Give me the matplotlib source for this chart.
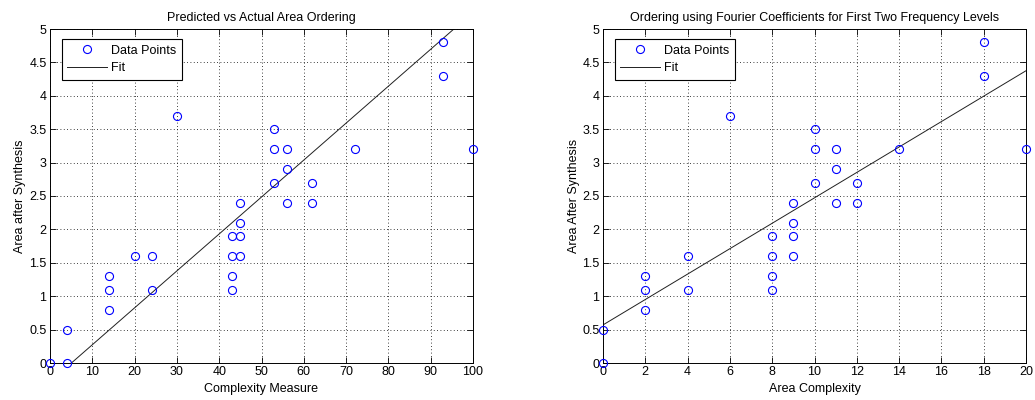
import matplotlib.pyplot as plt
import numpy as np

plt.rcParams["font.family"] = ["Liberation Sans", "DejaVu Sans"]
plt.rcParams["font.size"] = 9

# left panel: complexity measure vs area
left_x = [0, 4, 4, 14, 14, 14, 20, 24, 24, 30, 43, 43, 43, 43, 45, 45, 45, 45,
          53, 53, 53, 56, 56, 56, 62, 62, 72, 93, 93, 100]
left_y = [0, 0, 0.5, 0.8, 1.1, 1.3, 1.6, 1.6, 1.1, 3.7, 1.1, 1.3, 1.6, 1.9, 1.6, 1.9, 2.1, 2.4,
          2.7, 3.2, 3.5, 2.4, 2.9, 3.2, 2.4, 2.7, 3.2, 4.3, 4.8, 3.2]
left_fit_x = [0, 100]
left_fit_y = [-0.28, 5.25]

# right panel: fourier coefficient ordering
right_x = [0, 0, 2, 2, 2, 4, 4, 6, 8, 8, 8, 8, 9, 9, 9, 9, 10, 10, 10, 11, 11, 11,
           12, 12, 14, 18, 18, 20]
right_y = [0, 0.5, 0.8, 1.1, 1.3, 1.1, 1.6, 3.7, 1.1, 1.3, 1.6, 1.9, 1.6, 1.9, 2.1, 2.4,
           2.7, 3.2, 3.5, 2.4, 2.9, 3.2, 2.4, 2.7, 3.2, 4.3, 4.8, 3.2]
right_fit_x = [0, 20]
right_fit_y = [0.57, 4.375]

panels = [
    dict(x=left_x, y=left_y, fx=left_fit_x, fy=left_fit_y,
         xlim=(0, 100), xticks=np.arange(0, 101, 10),
         title="Predicted vs Actual Area Ordering",
         xlabel="Complexity Measure", ylabel="Area after Synthesis",
         rect=[50 / 1035, 37 / 400, 423 / 1035, 334 / 400]),
    dict(x=right_x, y=right_y, fx=right_fit_x, fy=right_fit_y,
         xlim=(0, 20), xticks=np.arange(0, 21, 2),
         title="Ordering using Fourier Coefficients for First Two Frequency Levels",
         xlabel="Area Complexity", ylabel="Area After Synthesis",
         rect=[603 / 1035, 37 / 400, 423 / 1035, 334 / 400]),
]

fig = plt.figure(figsize=(10.35, 4.0), dpi=100)

for p in panels:
    ax = fig.add_axes(p["rect"])
    ax.plot(p["x"], p["y"], "o", mfc="none", mec="blue", ms=5.8, mew=0.8,
            label="Data Points", clip_on=False, zorder=3)
    ax.plot(p["fx"], p["fy"], "-", color="#202020", lw=0.7, label="Fit")
    ax.set_xlim(*p["xlim"])
    ax.set_ylim(0, 5)
    ax.set_xticks(p["xticks"])
    ax.set_yticks(np.arange(0, 5.01, 0.5))
    ax.set_yticklabels([f"{v:g}" for v in np.arange(0, 5.01, 0.5)])
    ax.tick_params(direction="in", top=True, right=True, length=4, width=0.6,
                   pad=2.5, labelsize=9, colors="black")
    ax.grid(True, color="black", ls=(0, (1, 3)), lw=0.6)
    for s in ax.spines.values():
        s.set_linewidth(0.7)
    ax.set_title(p["title"], fontsize=9, pad=6)
    ax.set_xlabel(p["xlabel"], fontsize=9, labelpad=3)
    ax.set_ylabel(p["ylabel"], fontsize=9, labelpad=2)
    leg = ax.legend(loc="upper left", bbox_to_anchor=(0.028, 0.97), borderaxespad=0,
                    fancybox=False, framealpha=1, edgecolor="black", handlelength=3.2,
                    borderpad=0.45, labelspacing=0.45, handletextpad=0.3,
                    fontsize=9)
    leg.get_frame().set_linewidth(0.8)

fig.savefig("out.png", dpi=100)
